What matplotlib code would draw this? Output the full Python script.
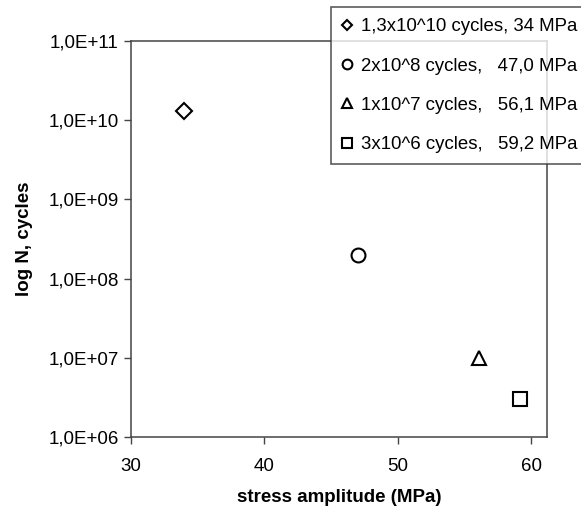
import numpy as np
import matplotlib.pyplot as plt
from matplotlib.ticker import FuncFormatter, NullLocator

plt.rcParams['font.family'] = ['Liberation Sans', 'DejaVu Sans']

# data
stress = [34.0, 47.0, 56.1, 59.2]
cycles = [1.3e10, 2e8, 1e7, 3e6]
markers = ['D', 'o', '^', 's']
labels = ['1,3x10^10 cycles, 34 MPa',
          '2x10^8 cycles,   47,0 MPa',
          '1x10^7 cycles,   56,1 MPa',
          '3x10^6 cycles,   59,2 MPa']
x_ticks = [30, 40, 50, 60]
y_ticks = [1e6, 1e7, 1e8, 1e9, 1e10, 1e11]

fig = plt.figure(figsize=(5.81, 5.14), dpi=100)
ax = fig.add_axes([131 / 581, 1 - 437 / 514, (547 - 131) / 581, (437 - 41) / 514])

sizes = {'D': 8, 'o': 10, '^': 10, 's': 10}
for x, y, m, lab in zip(stress, cycles, markers, labels):
    ax.plot(x, y, linestyle='none', marker=m, markersize=sizes[m],
            markerfacecolor='white', markeredgecolor='black',
            markeredgewidth=1.5, label=lab)

ax.set_yscale('log')
ax.set_xlim(30, 61.2)
ax.set_ylim(1e6, 1e11)
ax.set_xticks(x_ticks)
ax.set_yticks(y_ticks)
ax.yaxis.set_minor_locator(NullLocator())


def sci_comma(v, pos):
    e = int(round(np.log10(v)))
    return '1,0E+%02d' % e


ax.yaxis.set_major_formatter(FuncFormatter(sci_comma))
ax.tick_params(direction='out', length=5, width=1, color='#444444',
               labelsize=13.5, pad=4)
ax.tick_params(axis='x', pad=10)
for sp in ax.spines.values():
    sp.set_color('#444444')
    sp.set_linewidth(1.1)

ax.set_xlabel('stress amplitude (MPa)', fontsize=13.5, fontweight='bold', labelpad=10)
ax.set_ylabel('log N, cycles', fontsize=13.5, fontweight='bold', labelpad=11)

leg = fig.legend(loc='upper left', bbox_to_anchor=(331 / 581, 1 - 7 / 514),
                 fontsize=13.4, frameon=True, fancybox=False, markerscale=0.7,
                 handlelength=0.55, handletextpad=0.45, labelspacing=1.2,
                 borderpad=0.6, borderaxespad=0)
leg.get_frame().set_edgecolor('#333333')
leg.get_frame().set_linewidth(1.2)

fig.savefig('out.png', dpi=100)
